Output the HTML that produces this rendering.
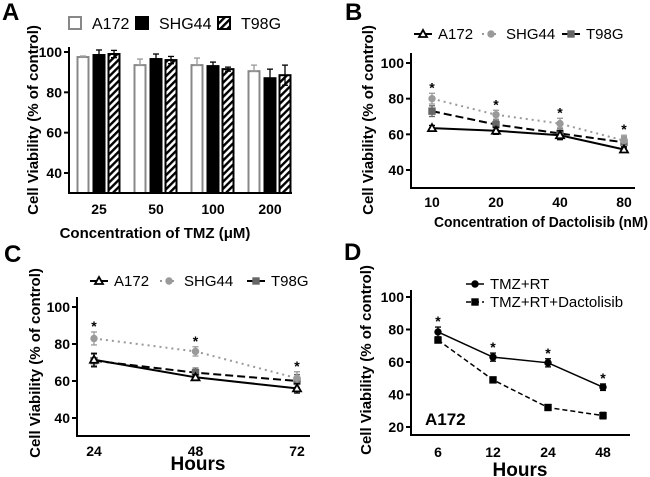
<!DOCTYPE html>
<html><head><meta charset="utf-8"><style>
html,body{margin:0;padding:0;background:#fff}
svg{display:block;font-family:"Liberation Sans",Arial,sans-serif}
.tick{font-weight:bold;font-size:14px}
.title{font-weight:bold;font-size:15px}
.leg{font-size:15px}
.plab{font-weight:bold;font-size:24px}
</style></head><body>
<svg id="fig" width="650" height="477" viewBox="0 0 650 477">
<defs><pattern id="hatch" patternUnits="userSpaceOnUse" width="5" height="5" patternTransform="rotate(45)"><rect width="5" height="5" fill="#fff"/><rect width="2.4" height="5" fill="#000"/></pattern></defs>
</svg>
<script>
// Panel A data
const aCats=["25","50","100","200"];
const aA172=[97.5,93.5,93.5,90.5];
const aSHG44=[98.5,96.5,93,87];
const aT98G=[99,96,91.5,88.5];
const aA172Err=[0.5,3,3.5,3];
const aSHG44Err=[2.5,2.5,2,4.5];
const aT98GErr=[1.8,1.8,1,5];
const aTicks=[40,60,80,100];
// Panel B data
const bCats=["10","20","40","80"];
const bA172=[63.5,62,59.5,51.5];
const bSHG44=[80,71,66,56.5];
const bT98G=[73,65.5,60.5,55.5];
const bErr=[3,2.5,3,3];
const bTicks=[40,60,80,100];
// Panel C data
const cCats=["24","48","72"];
const cA172=[71.5,62,56];
const cSHG44=[83,76,61.5];
const cT98G=[71,64.5,60];
const cErr=[3.5,2.5,3.5];
const cTicks=[40,60,80,100];
// Panel D data
const dCats=["6","12","24","48"];
const dRT=[78.5,63,59.5,44.5];
const dRTD=[73.5,49,32,27];
const dErr=[3,2.5,2.5,2];
const dTicks=[20,40,60,80,100];

const svg=document.getElementById('fig');
const NS="http://www.w3.org/2000/svg";
function mk(tag,attrs,parent){const e=document.createElementNS(NS,tag);for(const k in attrs)e.setAttribute(k,attrs[k]);(parent||svg).appendChild(e);return e;}
function txt(x,y,s,cls,anchor,parent){const t=mk('text',{x:x,y:y,class:cls,'text-anchor':anchor||'middle'},parent);t.textContent=s;return t;}
function yScale(v0,y0,v1,y1){return v=>y0+(v-v0)*(y1-y0)/(v1-v0);}

function axes(g,x0,x1,yTop,yBot,ys,ticks,cats,xs,xLabY){
  mk('line',{x1:x0,y1:yTop,x2:x0,y2:yBot,stroke:'#000','stroke-width':2},g);
  mk('line',{x1:x0-1,y1:yBot,x2:x1,y2:yBot,stroke:'#000','stroke-width':2},g);
  ticks.forEach(t=>{const y=ys(t);mk('line',{x1:x0-5,y1:y,x2:x0,y2:y,stroke:'#000','stroke-width':2},g);
    const l=txt(x0-7,y+5,String(t),'tick','end',g);
    
    });
  cats.forEach((c,i)=>{const l=txt(xs(i),xLabY,c,'tick','middle',g);
    
    });
}
function ylabel(g,x,y){const t=mk('text',{x:0,y:0,class:'title','text-anchor':'middle',transform:`translate(${x},${y}) rotate(-90)`},g);t.textContent='Cell Viability (% of control)';
  
  }
function errbar(g,x,y1,y2,color){mk('line',{x1:x,y1:y1,x2:x,y2:y2,stroke:color,'stroke-width':1.3},g);
  mk('line',{x1:x-3,y1:y1,x2:x+3,y2:y1,stroke:color,'stroke-width':1.3},g);
  mk('line',{x1:x-3,y1:y2,x2:x+3,y2:y2,stroke:color,'stroke-width':1.3},g);}
function marker(g,type,x,y,color){
  if(type==='tri')mk('polygon',{points:`${x},${y-4} ${x-4},${y+3} ${x+4},${y+3}`,fill:'#fff',stroke:color,'stroke-width':1.8},g);
  else if(type==='circ')mk('circle',{cx:x,cy:y,r:3.7,fill:color},g);
  else mk('rect',{x:x-3.7,y:y-3.7,width:7.4,height:7.4,fill:color},g);}
function series(g,xs,ys,vals,errs,style,name){
  const s=mk('g',{},g);
  
  
  const pts=vals.map((v,i)=>xs(i)+','+ys(v)).join(' ');
  mk('polyline',{points:pts,fill:'none',stroke:style.line,'stroke-width':style.w||2,'stroke-dasharray':style.dash||'none'},s);
  vals.forEach((v,i)=>{errbar(s,xs(i),ys(v+errs[i]),ys(v-errs[i]),style.color);marker(s,style.mk,xs(i),ys(v),style.color);});
}
function legendItem(g,x,y,style,label){
  const it=mk('g',{},g);
  
  
  mk('line',{x1:x,y1:y,x2:x+18,y2:y,stroke:style.line,'stroke-width':style.w||2,'stroke-dasharray':style.dash||'none'},it);
  marker(it,style.mk,x+9,y,style.color);
  txt(x+24,y+5,label,'leg','start',it);
}
const stA172={line:'#000',color:'#000',mk:'tri'};
const stSHG={line:'#999',color:'#9a9a9a',mk:'circ',dash:'2,4'};
const stT98={line:'#000',color:'#666',mk:'sq',dash:'8,4'};

// ---------- Panel A ----------
(function(){
  const g=mk('g',{});
  
  
  const ys=yScale(100,52,40,173);
  const centers=[99,157,213,270];
  const xs=i=>centers[0]+i*(centers[3]-centers[0])/3;
  const lab=txt(2,20,'A','plab','start',g);
  
  
  const sets=[[aA172,aA172Err,{fill:'#fff',stroke:'#888'},-16,'A172'],[aSHG44,aSHG44Err,{fill:'#000',stroke:'#000'},0,'SHG44'],[aT98G,aT98GErr,{fill:'url(#hatch)',stroke:'#000'},15,'T98G']];
  const yb=193;
  sets.forEach(([vals,errs,st,off,nm])=>{
    vals.forEach((v,i)=>{const x=xs(i)+off;
      const r=mk('rect',{x:x-5.5,y:ys(v),width:11,height:yb-ys(v),fill:st.fill,stroke:st.stroke,'stroke-width':2},g);
      
      
      errbar(g,x,ys(v+errs[i]),ys(v),nm==='A172'?'#999':'#000');
      if(nm!=='A172')errbar(g,x,ys(v),ys(v-errs[i]),'#000');
    });
  });
  axes(g,69,292,47,193,ys,aTicks,aCats,xs,214);
  ylabel(g,38,120);
  const xt=txt(155,238,'Concentration of TMZ (μM)','title','middle',g);
  
  
  const lg=[[68,{fill:'#fff',stroke:'#888'},'A172'],[135,{fill:'#000',stroke:'#000'},'SHG44'],[217,{fill:'url(#hatch)',stroke:'#000'},'T98G']];
  lg.forEach(([x,st,l])=>{const it=mk('g',{},g);
    
    
    mk('rect',{x:x+1,y:17,width:12,height:12,fill:st.fill,stroke:st.stroke,'stroke-width':2},it);
    const t=txt(x+24,29,l,'leg','start',it);t.setAttribute('style','font-size:16px');});
})();

// ---------- Panel B ----------
(function(){
  const g=mk('g',{});
  
  
  const ys=yScale(100,63,40,170);
  const xs=i=>432+i*64;
  const lab=txt(345,20,'B','plab','start',g);
  
  
  axes(g,411,635,53,188,ys,bTicks,bCats,xs,207);
  series(g,xs,ys,bT98G,bErr,stT98,'series-t98g');
  series(g,xs,ys,bSHG44,bErr,stSHG,'series-shg44');
  series(g,xs,ys,bA172,[1.5,2,2.5,1.5],stA172,'series-a172');
  bSHG44.forEach((v,i)=>{const s=txt(xs(i),ys(v+bErr[i])-1,'*','tick','middle',g);
    
    });
  ylabel(g,373,120);
  const xt=txt(541,227,'Concentration of Dactolisib (nM)','title','middle',g);
  xt.setAttribute('textLength','214');
  xt.setAttribute('lengthAdjust','spacingAndGlyphs');
  
  
  legendItem(g,414,34,stA172,'A172');
  legendItem(g,482,34,stSHG,'SHG44');
  legendItem(g,562,34,stT98,'T98G');
})();

// ---------- Panel C ----------
(function(){
  const g=mk('g',{});
  
  
  const ys=yScale(100,307,40,418);
  const xs=i=>94+i*101.5;
  const lab=txt(4,262,'C','plab','start',g);
  
  
  axes(g,77,310,297,436,ys,cTicks,cCats,xs,456);
  series(g,xs,ys,cT98G,cErr,stT98,'series-t98g');
  series(g,xs,ys,cSHG44,cErr,stSHG,'series-shg44');
  series(g,xs,ys,cA172,[3.5,1.5,2.5],stA172,'series-a172');
  cSHG44.forEach((v,i)=>{const s=txt(xs(i),ys(v+cErr[i])-1,'*','tick','middle',g);
    
    });
  ylabel(g,40,363);
  const xt=txt(198,470,'Hours','title','middle',g);
  xt.setAttribute('style','font-size:19px');
  
  
  legendItem(g,90,281,stA172,'A172');
  legendItem(g,160,281,stSHG,'SHG44');
  legendItem(g,247,281,stT98,'T98G');
})();

// ---------- Panel D ----------
(function(){
  const g=mk('g',{});
  
  
  const ys=yScale(100,297,20,427);
  const xs=i=>438+i*55;
  const lab=txt(344,260,'D','plab','start',g);
  
  
  axes(g,411,630,290,435,ys,dTicks,dCats,xs,457);
  const st1={line:'#000',color:'#000',mk:'circ',w:1.5};
  const st2={line:'#000',color:'#000',mk:'sq',dash:'5,3',w:1.5};
  series(g,xs,ys,dRT,dErr,st1,'series-tmz-rt');
  series(g,xs,ys,dRTD,[1,1,1,2],st2,'series-tmz-rt-dactolisib');
  dRT.forEach((v,i)=>{const s=txt(xs(i),ys(v+dErr[i])-1,'*','tick','middle',g);
    
    });
  ylabel(g,371,360);
  const xt=txt(520,476,'Hours','title','middle',g);
  xt.setAttribute('style','font-size:19px');
  
  
  const a=txt(425,425,'A172','title','start',g);
  a.setAttribute('style','font-size:17px');
  
  
  legendItem(g,466,284,st1,'TMZ+RT');
  legendItem(g,466,302,st2,'TMZ+RT+Dactolisib');
})();
</script>
</body></html>
